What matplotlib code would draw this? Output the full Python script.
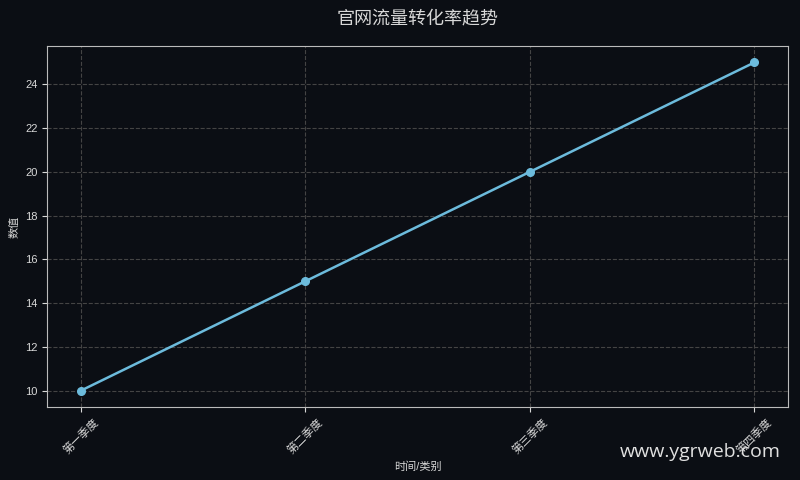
import matplotlib
matplotlib.use("Agg")
import matplotlib.pyplot as plt

plt.rcParams['font.family'] = ['Liberation Sans', 'Noto Sans CJK SC', 'DejaVu Sans']

# data
quarters = ["第一季度", "第二季度", "第三季度", "第四季度"]
values = [10, 15, 20, 25]

bg = "#0b0e14"
fg = "#d8d8d8"

fig, ax = plt.subplots(figsize=(8, 4.8), dpi=100)
fig.patch.set_facecolor(bg)
ax.set_facecolor(bg)

ax.plot(quarters, values, color="#6cbbdc", linewidth=1.8, marker="o", markersize=5.5)

ax.set_title("官网流量转化率趋势", color=fg, fontsize=13, pad=16)
ax.set_xlabel("时间/类别", color=fg, fontsize=8)
ax.set_ylabel("数值", color=fg, fontsize=8)
ax.set_yticks(range(10, 26, 2))
ax.tick_params(colors=fg, labelsize=8)
plt.setp(ax.get_xticklabels(), rotation=45)
ax.grid(True, linestyle="--", color="#444444", linewidth=0.8)
for s in ax.spines.values():
    s.set_color("#bbbbbb")

fig.text(0.976, 0.04, "www.ygrweb.com", color="#e0e0e0", fontsize=14,
         ha="right", va="bottom", family=["Open Sans", "DejaVu Sans"])

fig.subplots_adjust(left=0.059, right=0.985, top=0.904, bottom=0.152)
fig.savefig("out.png", dpi=100, facecolor=bg)
